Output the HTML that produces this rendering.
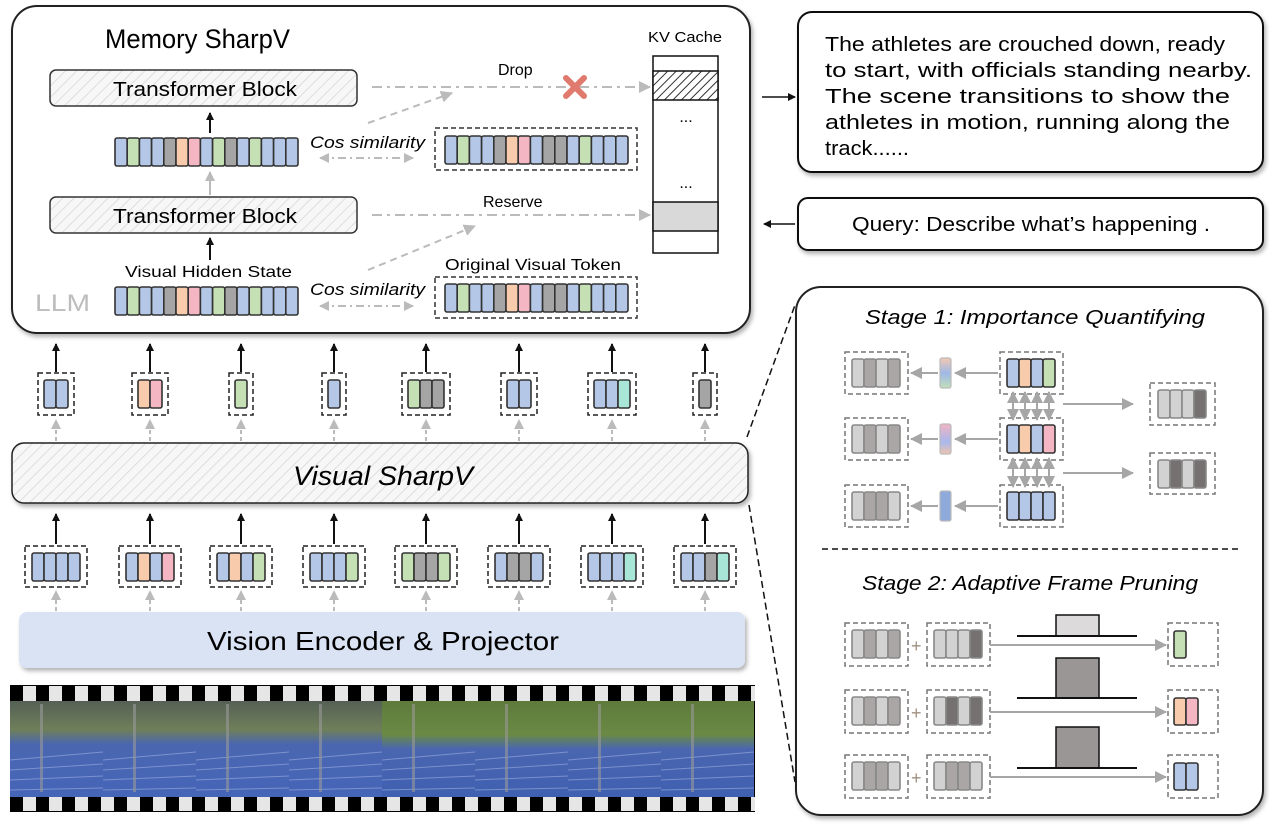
<!DOCTYPE html>
<html><head><meta charset="utf-8"><style>
html,body{margin:0;padding:0;background:#fff;width:1280px;height:828px;overflow:hidden}
svg{display:block}
text{font-family:"Liberation Sans",sans-serif;fill:#000}
</style></head><body>
<svg id="s" width="1280" height="828" viewBox="0 0 1280 828" xmlns="http://www.w3.org/2000/svg">
<defs>
<pattern id="hatch" width="8" height="8" patternUnits="userSpaceOnUse" patternTransform="rotate(45)">
<rect width="8" height="8" fill="#f7f7f7"/><line x1="0" y1="0" x2="0" y2="8" stroke="#d6d6d6" stroke-width="1.5"/></pattern>
<pattern id="hatch2" width="6" height="6" patternUnits="userSpaceOnUse" patternTransform="rotate(45)">
<rect width="6" height="6" fill="#fff"/><line x1="0" y1="0" x2="0" y2="6" stroke="#333" stroke-width="2"/></pattern>
<filter id="sh" x="-5%" y="-5%" width="110%" height="120%"><feDropShadow dx="2" dy="3" stdDeviation="2" flood-color="#000" flood-opacity="0.3"/></filter>
<marker id="ab" markerWidth="8" markerHeight="8" refX="7" refY="4" orient="auto" markerUnits="userSpaceOnUse"><path d="M0,0 L8,4 L0,8z" fill="#111"/></marker>
<marker id="ag" markerWidth="12" markerHeight="12" refX="11" refY="6" orient="auto" markerUnits="userSpaceOnUse"><path d="M0,0 L12,6 L0,12z" fill="#bbb"/></marker>
<marker id="ag2" markerWidth="12" markerHeight="12" refX="11" refY="6" orient="auto" markerUnits="userSpaceOnUse"><path d="M0,0 L12,6 L0,12z" fill="#a6a6a6"/></marker>
<marker id="ag2s" markerWidth="12" markerHeight="12" refX="1" refY="6" orient="auto" markerUnits="userSpaceOnUse"><path d="M12,0 L0,6 L12,12z" fill="#a6a6a6"/></marker>
<marker id="agsm" markerWidth="10" markerHeight="10" refX="9" refY="5" orient="auto" markerUnits="userSpaceOnUse"><path d="M0,0 L10,5 L0,10z" fill="#bbb"/></marker>
<marker id="agsms" markerWidth="10" markerHeight="10" refX="1" refY="5" orient="auto" markerUnits="userSpaceOnUse"><path d="M10,0 L0,5 L10,10z" fill="#bbb"/></marker>
<linearGradient id="gr1" x1="0" y1="0" x2="0" y2="1"><stop offset="0" stop-color="#f3c9b0"/><stop offset=".5" stop-color="#9fb8e8"/><stop offset="1" stop-color="#bfe0b8"/></linearGradient>
<linearGradient id="gr2" x1="0" y1="0" x2="0" y2="1"><stop offset="0" stop-color="#f2b3c4"/><stop offset=".6" stop-color="#a8b8ec"/><stop offset="1" stop-color="#f0c4b0"/></linearGradient>
<linearGradient id="frm" x1="0" y1="0" x2="0" y2="1"><stop offset="0" stop-color="#556055"/><stop offset=".3" stop-color="#6f7f5a"/><stop offset=".45" stop-color="#4a66b0"/><stop offset="1" stop-color="#4565b8"/></linearGradient>
<linearGradient id="frm2" x1="0" y1="0" x2="0" y2="1"><stop offset="0" stop-color="#5e7a3c"/><stop offset=".35" stop-color="#6a8a44"/><stop offset=".5" stop-color="#4a66b0"/><stop offset="1" stop-color="#3f5fb0"/></linearGradient>
</defs>

<rect x="12" y="6" width="738" height="327" rx="25" fill="#fff" stroke="#222" stroke-width="2" filter="url(#sh)"/>
<text x="105" y="48" font-size="27" textLength="185" lengthAdjust="spacingAndGlyphs">Memory SharpV</text>
<text x="35" y="311" font-size="24" style="fill:#bdbdbd" textLength="55" lengthAdjust="spacingAndGlyphs">LLM</text>
<rect x="50" y="70" width="307" height="36" rx="6" fill="url(#hatch)" stroke="#333" stroke-width="1.5"/>
<text x="113" y="96" font-size="20" textLength="184" lengthAdjust="spacingAndGlyphs">Transformer Block</text>
<rect x="50" y="197" width="307" height="36" rx="6" fill="url(#hatch)" stroke="#333" stroke-width="1.5"/>
<text x="113" y="223" font-size="20" textLength="184" lengthAdjust="spacingAndGlyphs">Transformer Block</text>
<line x1="210" y1="133" x2="210" y2="113" stroke="#111" stroke-width="2" marker-end="url(#ab)"/>
<line x1="210" y1="195" x2="210" y2="172" stroke="#bbb" stroke-width="2" marker-end="url(#agsm)"/>
<line x1="210" y1="260" x2="210" y2="238" stroke="#111" stroke-width="2" marker-end="url(#ab)"/>
<text x="125" y="277" font-size="16" textLength="167" lengthAdjust="spacingAndGlyphs">Visual Hidden State</text>
<text x="445" y="270" font-size="16" textLength="176" lengthAdjust="spacingAndGlyphs">Original Visual Token</text>
<text x="310" y="148" font-size="17" font-style="italic" textLength="115" lengthAdjust="spacingAndGlyphs">Cos similarity</text>
<text x="310" y="295" font-size="17" font-style="italic" textLength="115" lengthAdjust="spacingAndGlyphs">Cos similarity</text>
<line x1="320" y1="158" x2="413" y2="158" stroke="#bbb" stroke-width="2" stroke-dasharray="8,4,2,4" marker-start="url(#agsms)" marker-end="url(#agsm)"/>
<line x1="320" y1="306" x2="413" y2="306" stroke="#bbb" stroke-width="2" stroke-dasharray="8,4,2,4" marker-start="url(#agsms)" marker-end="url(#agsm)"/>
<rect x="435" y="128" width="202" height="42" fill="none" stroke="#333" stroke-width="1.5" stroke-dasharray="5,3"/>
<rect x="435" y="277" width="202" height="41" fill="none" stroke="#333" stroke-width="1.5" stroke-dasharray="5,3"/>
<line x1="372" y1="87" x2="650" y2="87" stroke="#bbb" stroke-width="2" stroke-dasharray="10,5,3,5" marker-end="url(#ag)"/>
<line x1="372" y1="215" x2="650" y2="215" stroke="#bbb" stroke-width="2" stroke-dasharray="10,5,3,5" marker-end="url(#ag)"/>
<line x1="368" y1="123" x2="452" y2="93" stroke="#bbb" stroke-width="2" stroke-dasharray="7,5" marker-end="url(#ag)"/>
<line x1="368" y1="270" x2="475" y2="226" stroke="#bbb" stroke-width="2" stroke-dasharray="7,5" marker-end="url(#ag)"/>
<text x="498" y="75" font-size="16">Drop</text>
<text x="483" y="207" font-size="16">Reserve</text>
<g stroke="#e07a6e" stroke-width="6" stroke-linecap="round"><line x1="566" y1="78" x2="584" y2="96"/><line x1="584" y1="78" x2="566" y2="96"/></g>
<text x="648" y="42" font-size="15" textLength="74" lengthAdjust="spacingAndGlyphs">KV Cache</text>
<rect x="653" y="56" width="65" height="197" fill="#fff" stroke="#111" stroke-width="1.5"/>
<rect x="653" y="71" width="65" height="29" fill="url(#hatch2)" stroke="#111" stroke-width="1.5"/>
<rect x="653" y="202" width="65" height="29" fill="#d9d9d9" stroke="#111" stroke-width="1.5"/>
<text x="686" y="122" font-size="16" text-anchor="middle">...</text>
<text x="686" y="188" font-size="16" text-anchor="middle">...</text>

<rect x="798" y="12" width="465" height="160" rx="14" fill="#fff" stroke="#111" stroke-width="2" filter="url(#sh)"/>
<g font-size="20">
<text x="825" y="51" textLength="400" lengthAdjust="spacingAndGlyphs">The athletes are crouched down, ready</text>
<text x="825" y="77" textLength="427" lengthAdjust="spacingAndGlyphs">to start, with officials standing nearby.</text>
<text x="825" y="103" textLength="405" lengthAdjust="spacingAndGlyphs">The scene transitions to show the</text>
<text x="825" y="129" textLength="405" lengthAdjust="spacingAndGlyphs">athletes in motion, running along the</text>
<text x="825" y="155" textLength="84" lengthAdjust="spacingAndGlyphs">track......</text>
</g>
<line x1="762" y1="97" x2="795" y2="97" stroke="#111" stroke-width="1.5" marker-end="url(#ab)"/>
<rect x="798" y="198" width="465" height="52" rx="10" fill="#fff" stroke="#111" stroke-width="2" filter="url(#sh)"/>
<text x="852" y="231" font-size="20" textLength="358" lengthAdjust="spacingAndGlyphs">Query: Describe what’s happening .</text>
<line x1="795" y1="224" x2="764" y2="224" stroke="#111" stroke-width="1.5" marker-end="url(#ab)"/>

<line x1="747" y1="437" x2="795" y2="305" stroke="#111" stroke-width="1.5" stroke-dasharray="7,4"/>
<line x1="749" y1="505" x2="795" y2="782" stroke="#111" stroke-width="1.5" stroke-dasharray="7,4"/>
<rect x="796" y="287" width="467" height="528" rx="25" fill="#fff" stroke="#222" stroke-width="2" filter="url(#sh)"/>
<text x="865" y="324" font-size="20" font-style="italic" textLength="340" lengthAdjust="spacingAndGlyphs">Stage 1: Importance Quantifying</text>
<line x1="822" y1="549" x2="1238" y2="549" stroke="#111" stroke-width="1.5" stroke-dasharray="6,4"/>
<text x="862" y="590" font-size="20" font-style="italic" textLength="336" lengthAdjust="spacingAndGlyphs">Stage 2: Adaptive Frame Pruning</text>

<rect x="12" y="443" width="736" height="60" rx="12" fill="url(#hatch)" stroke="#222" stroke-width="1.5" filter="url(#sh)"/>
<text x="293" y="485" font-size="27" font-style="italic" textLength="180" lengthAdjust="spacingAndGlyphs">Visual SharpV</text>
<rect x="19" y="612" width="726" height="56" rx="8" fill="#dae3f3" filter="url(#sh)"/>
<text x="207" y="650" font-size="26" textLength="352" lengthAdjust="spacingAndGlyphs">Vision Encoder &amp; Projector</text>

<g id="dyn"></g>
</svg>
<script>
(function(){
var C={B:"#b4c7e7",G:"#c5e0b4",O:"#f8cbad",P:"#f4b6c2",Y:"#a5a5a5",T:"#a8e6d8",L:"#d2d2d2",M:"#aaa6a5",D:"#767171"};
var g=document.getElementById("dyn"),h="";
function tok(x,y,w,ht,c,st){h+='<rect x="'+x+'" y="'+y+'" width="'+w+'" height="'+ht+'" rx="2" fill="'+c+'" stroke="'+(st||"#333")+'" stroke-width="1.6"/>';}
function row(x,y,w,ht,s,st){for(var i=0;i<s.length;i++)tok(x+i*w,y,w,ht,C[s.charAt(i)],st);}
function dbox(x,y,w,ht,c){h+='<rect x="'+x+'" y="'+y+'" width="'+w+'" height="'+ht+'" fill="none" stroke="'+(c||"#222")+'" stroke-width="1.5" stroke-dasharray="5,3"/>';}
function ln(x1,y1,x2,y2,c,m,extra){h+='<line x1="'+x1+'" y1="'+y1+'" x2="'+x2+'" y2="'+y2+'" stroke="'+c+'" stroke-width="2" '+(m?'marker-end="url(#'+m+')"':'')+' '+(extra||'')+'/>';}
row(115,138,12.2,28,"BGBBYOPBGYBGBBB");
row(115,287,12.2,28,"BGBBYOPBGYBGBBB");
row(445,136,12.2,28,"BGBBYOPBYYBGBBB");
row(445,284,12.2,28,"BGBBYOPBYYBGBBB");
var cx=[56,150,241,334,426,519,612,705];
var tg=["BB","OP","G","B","GYY","BB","BBT","Y"];
var bg=["BBBB","BOBP","BOBG","BBBG","GYYG","BYYB","BBBT","BBYT"];
for(var i=0;i<8;i++){
 var s=tg[i],w=s.length*12,x=cx[i]-w/2;
 dbox(x-6,373,w+12,42);row(x,380,12,28,s);
 ln(cx[i],372,cx[i],344,"#111","ab");
 ln(cx[i],441,cx[i],420,"#bbb","agsm",'stroke-dasharray="4,3"');
 var b=bg[i];x=cx[i]-24;
 dbox(x-7,546,62,41);row(x,553,12,28,b);
 ln(cx[i],544,cx[i],514,"#111","ab");
 ln(cx[i],611,cx[i],591,"#bbb","agsm",'stroke-dasharray="4,3"');
}
h+='<rect x="10" y="685" width="745" height="127" fill="#000"/>';
h+='<rect x="10" y="686" width="745" height="15" fill="#e6e6e6"/><rect x="10" y="797" width="745" height="14" fill="#e6e6e6"/>';
for(var x=10;x<755;x+=26){h+='<rect x="'+x+'" y="686" width="13" height="15" fill="#000"/><rect x="'+x+'" y="797" width="13" height="14" fill="#000"/>';}
for(var i=0;i<8;i++){var fx=10+i*93;h+='<rect x="'+fx+'" y="701" width="93" height="96" fill="url(#'+(i<4?'frm':'frm2')+')"/>';
 for(var k=0;k<4;k++){h+='<line x1="'+fx+'" y1="'+(760+k*10)+'" x2="'+(fx+93)+'" y2="'+(752+k*12)+'" stroke="#9fb0e0" stroke-width="1" opacity=".6"/>';}
 h+='<rect x="'+(fx+30)+'" y="704" width="3" height="88" fill="#999" opacity=".6"/>';}
var ys=[352,418,485],mid=["BOBG","BOBP","BBBB"],lef=["LMLM","LMLM","LMML"],gf=["url(#gr1)","url(#gr2)","#8eaadb"];
for(var r=0;r<3;r++){var y=ys[r];
 dbox(845,y,63,42,"#777");row(852,y+7,12,28,lef[r],"#888");
 h+='<rect x="940" y="'+(y+6)+'" width="11" height="30" rx="2" fill="'+gf[r]+'" stroke="#bbb" stroke-width="1.2"/>';
 ln(998,y+21,955,y+21,"#a6a6a6","ag2");ln(938,y+21,911,y+21,"#a6a6a6","ag2");
 dbox(1000,y,63,42,"#777");row(1007,y+7,12,28,mid[r]);}
for(var r=0;r<2;r++){for(var k=0;k<4;k++){var x=1013+k*12;h+='<line x1="'+x+'" y1="'+(ys[r]+40)+'" x2="'+x+'" y2="'+(ys[r+1]+2)+'" stroke="#a6a6a6" stroke-width="2" marker-start="url(#ag2s)" marker-end="url(#ag2)"/>';}}
dbox(1150,383,65,42,"#777");row(1158,390,12,28,"LLLD","#888");
dbox(1150,453,65,41,"#777");row(1158,460,12,28,"LDLD","#888");
ln(1063,404,1133,404,"#a6a6a6","ag2");ln(1063,473,1133,473,"#a6a6a6","ag2");
var y2=[623,690,755],L2=["LMLM","LMLM","LMML"],R2=["LLLD","LDLD","LMML"],O2=["G","OP","BB"],bl=[636,698,768],rt=[615,658,727],rf=["#dcdadb","#9a9695","#9a9695"];
for(var r=0;r<3;r++){var y=y2[r];
 dbox(845,y,63,43,"#777");row(852,y+7,12,28,L2[r],"#888");
 h+='<text x="911" y="'+(y+29)+'" font-size="18" style="fill:#a09080">+</text>';
 dbox(927,y,63,43,"#777");row(934,y+7,12,28,R2[r],"#888");
 h+='<rect x="1056" y="'+rt[r]+'" width="43" height="'+(bl[r]-rt[r])+'" fill="'+rf[r]+'" stroke="#111" stroke-width="1.5"/>';
 h+='<line x1="1017" y1="'+bl[r]+'" x2="1137" y2="'+bl[r]+'" stroke="#111" stroke-width="2"/>';
 ln(990,y+22,1166,y+22,"#a6a6a6","ag2");
 dbox(1168,y,50,43,"#777");row(1174,y+8,12,27,O2[r]);}
g.innerHTML=h;
})();
</script>
</body></html>
